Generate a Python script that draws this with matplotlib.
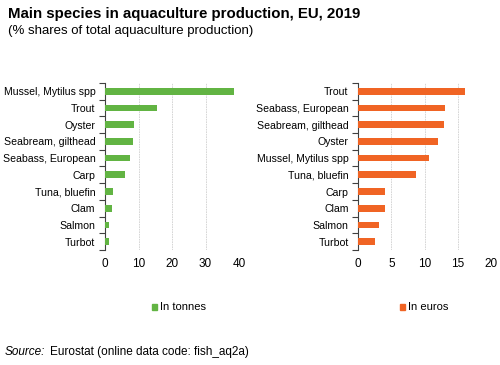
import numpy as np
import matplotlib.pyplot as plt

plt.rcParams['font.family'] = ['Liberation Sans', 'DejaVu Sans']

# Datos: participación (%) en la producción acuícola total, UE, 2019
especies_t = ['Mussel, Mytilus spp', 'Trout', 'Oyster', 'Seabream, gilthead',
              'Seabass, European', 'Carp', 'Tuna, bluefin', 'Clam', 'Salmon', 'Turbot']
toneladas = [38.5, 15.4, 8.7, 8.4, 7.6, 6.0, 2.3, 2.2, 1.3, 1.1]

especies_e = ['Trout', 'Seabass, European', 'Seabream, gilthead', 'Oyster',
              'Mussel, Mytilus spp', 'Tuna, bluefin', 'Carp', 'Clam', 'Salmon', 'Turbot']
euros = [16.1, 13.1, 12.9, 12.1, 10.6, 8.7, 4.1, 4.0, 3.1, 2.5]

verde = '#62B443'
naranja = '#F06424'

fig = plt.figure(figsize=(5, 3.65), dpi=100)
fig.patch.set_facecolor('white')

fig.text(0.016, 0.962, 'Main species in aquaculture production, EU, 2019',
         fontsize=10.8, fontweight='bold', va='center')
fig.text(0.016, 0.915, '(% shares of total aquaculture production)',
         fontsize=9.5, va='center')


def panel(rect, nombres, valores, color, xmax, paso, etiqueta, x_leyenda):
    ax = fig.add_axes(rect)
    y = np.arange(len(nombres))
    ax.barh(y, valores, height=0.4, color=color, zorder=3)
    ax.set_yticks(y)
    ax.set_yticklabels(nombres, fontsize=7.6)
    ax.set_ylim(len(nombres) - 0.5, -0.5)
    ax.set_xlim(0, xmax)
    ax.set_xticks(np.arange(0, xmax + 1, paso))
    ax.tick_params(axis='x', length=0, labelsize=8.5, pad=6)
    ax.tick_params(axis='y', length=0, pad=7)
    # marcas entre categorías
    ax.set_yticks(np.arange(-0.5, len(nombres)), minor=True)
    ax.tick_params(axis='y', which='minor', length=4, color='#404040', width=0.8)
    for lado in ['top', 'right', 'bottom']:
        ax.spines[lado].set_visible(False)
    ax.spines['left'].set_color('#404040')
    ax.spines['left'].set_linewidth(0.8)
    ax.grid(axis='x', color='#D0D0D0', linestyle=(0, (2, 1)), linewidth=0.6, zorder=0)
    ax.set_axisbelow(True)
    # leyenda
    fig.patches.append(plt.Rectangle((x_leyenda, 0.152), 0.010, 0.014,
                                     transform=fig.transFigure, color=color))
    fig.text(x_leyenda + 0.016, 0.159, etiqueta, fontsize=8, va='center')
    return ax


panel([0.21, 0.315, 0.268, 0.458], especies_t, toneladas, verde, 40, 10, 'In tonnes', 0.303)
panel([0.7166, 0.315, 0.265, 0.458], especies_e, euros, naranja, 20, 5, 'In euros', 0.8)

fig.text(0.01, 0.036, 'Source:', fontsize=8.5, style='italic', va='center')
fig.text(0.1, 0.036, 'Eurostat (online data code: fish_aq2a)', fontsize=8.5, va='center')

fig.savefig('out.png', dpi=100)
